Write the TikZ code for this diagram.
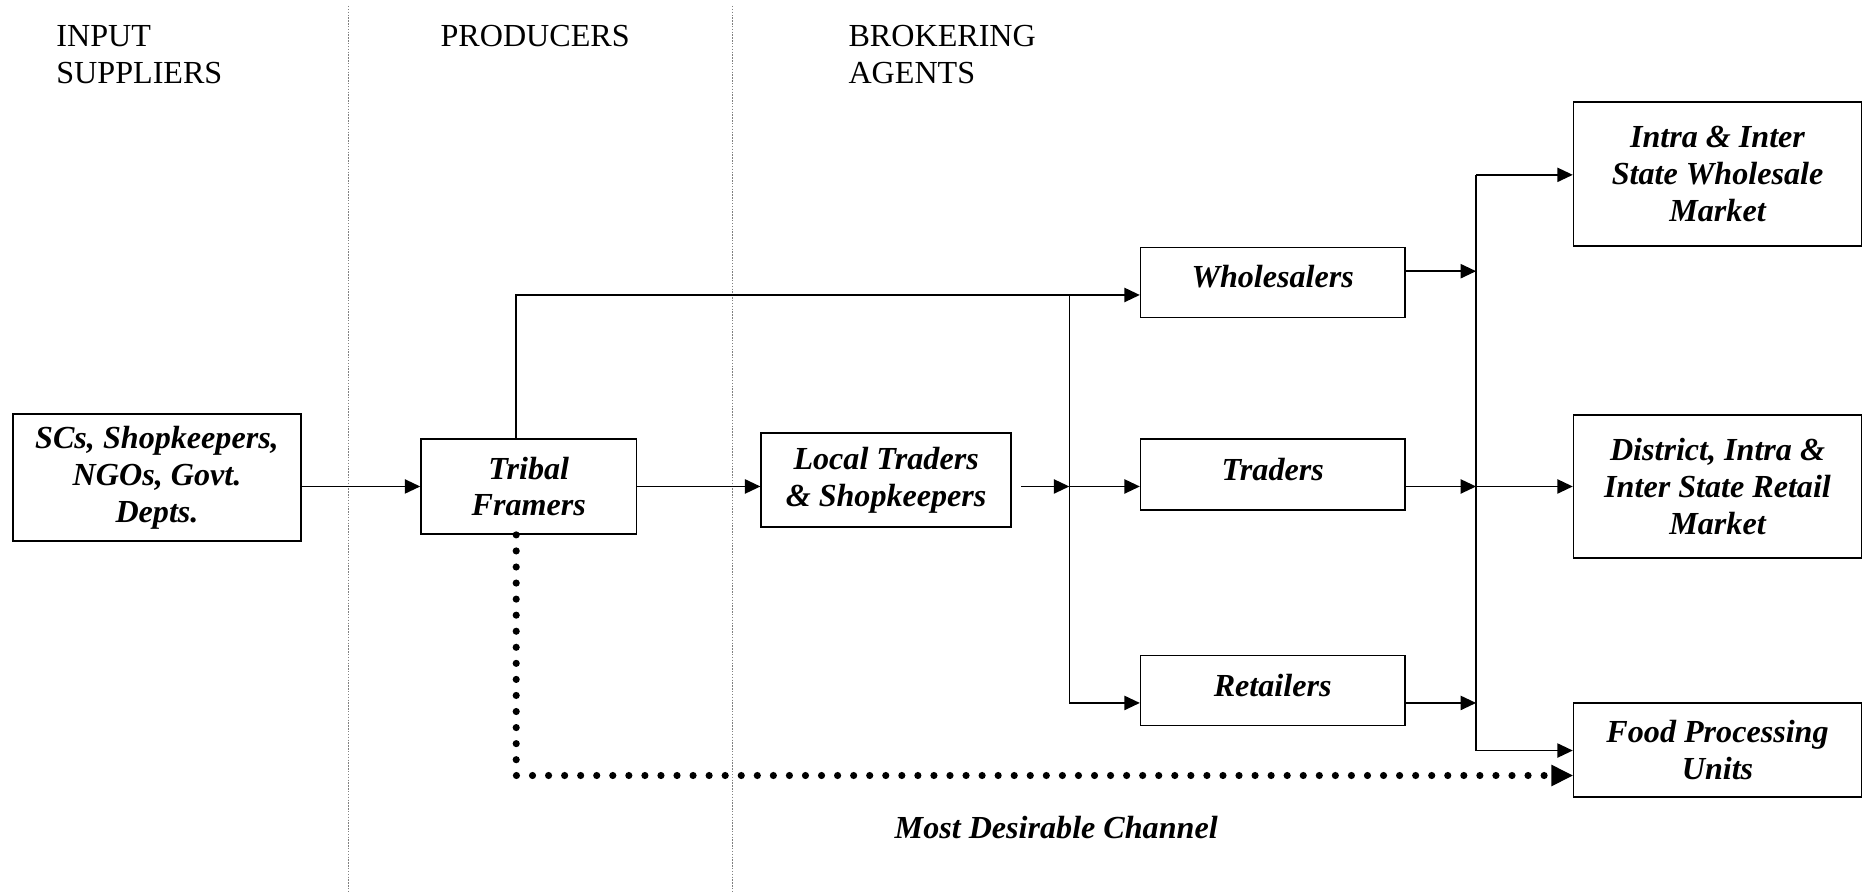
\documentclass[tikz,border=0pt]{standalone}
\usepackage{fontspec}
\setmainfont{Liberation Serif}
\usetikzlibrary{arrows.meta}

% raise or lower a box's contents without changing its size
\newcommand{\nudge}[2]{\raisebox{#1}[\height][\depth]{#2}}

\begin{document}
\begin{tikzpicture}[x=0.5pt,y=-0.5pt,
  box/.style={draw, line width=0.7pt, inner sep=0pt, align=center,
    font=\bfseries\itshape\fontsize{13.5}{15.5}\selectfont},
  head/.style={inner sep=0pt, anchor=base west, font=\fontsize{13.5}{15.5}\selectfont},
  flow/.style={line width=0.65pt, -{Triangle[length=6.5pt,width=6pt]}},
  link/.style={line width=0.65pt},
  lane/.style={gray, line width=0.4pt, dash pattern=on 0.6pt off 0.6pt},
  best/.style={line width=3pt, line cap=round, dash pattern=on 0pt off 6.75pt},
  besttip/.style={-{Triangle[length=9pt,width=9pt]}, line width=0.6pt}]

\useasboundingbox[fill=white] (0,0) rectangle (1568,750);

% column separators
\draw[lane] (293,5) -- (293,750);
\draw[lane] (616,5) -- (616,750);

% column headings
\node[head] (h1a) at (47,39) {INPUT};
\node[head] (h1b) at (47,70) {SUPPLIERS};
\node[head] (h2)  at (370,39) {PRODUCERS};
\node[head] (h3a) at (713,39) {BROKERING};
\node[head] (h3b) at (713,70) {AGENTS};

% boxes
\node[box, minimum width=121pt, minimum height=53.5pt] (scs) at (132,401.5)
  {SCs, Shopkeepers,\\NGOs, Govt.\\Depts.};
\node[box, minimum width=90.5pt, minimum height=40pt] (tribal) at (444.5,409)
  {Tribal\\Framers};
\node[box, minimum width=105pt, minimum height=39.5pt] (local) at (745,403.5)
  {Local Traders\\\& Shopkeepers};
\node[box, minimum width=111pt, minimum height=29.5pt] (whole) at (1070,237.5)
  {\nudge{2.5pt}{Wholesalers}};
\node[box, minimum width=111pt, minimum height=30pt] (traders) at (1070,399)
  {\nudge{2pt}{Traders}};
\node[box, minimum width=111pt, minimum height=29.5pt] (retail) at (1070,580.5)
  {\nudge{2pt}{Retailers}};
\node[box, minimum width=121pt, minimum height=60.5pt] (intra) at (1444,146.5)
  {Intra \& Inter\\State Wholesale\\Market};
\node[box, minimum width=121pt, minimum height=60pt] (district) at (1444,409)
  {District, Intra \&\\Inter State Retail\\Market};
\node[box, minimum width=121pt, minimum height=39.5pt] (food) at (1444,630.5)
  {Food Processing\\Units};

% junction points
\coordinate (up) at (434,248);
\coordinate (hubtop) at (899,248);
\coordinate (hubmid) at (899,409);
\coordinate (hubbot) at (899,591);
\coordinate (bustop) at (1241,147);
\coordinate (busw) at (1241,228);
\coordinate (busmid) at (1241,409);
\coordinate (busr) at (1241,591);
\coordinate (busbot) at (1241,631);
\coordinate (dotcorner) at (434,652);
\coordinate (dotend) at (1306,652);

% main flows
\draw[flow] (scs.east |- tribal.west) -- (tribal.west);
\draw[flow] (tribal.east) -- (tribal.east -| local.west);
\draw[flow] (tribal.north -| up) -- (up) -- (up -| whole.west);
\draw[flow] ([xshift=4pt]local.east |- hubmid) -- (hubmid);
\draw[link] (hubtop) -- (hubbot);
\draw[flow] (hubmid) -- (hubmid -| traders.west);
\draw[flow] (hubbot) -- (hubbot -| retail.west);

\draw[flow] (whole.east |- busw) -- (busw);
\draw[flow] (traders.east |- busmid) -- (busmid);
\draw[flow] (retail.east |- busr) -- (busr);
\draw[link] (bustop) -- (busbot);
\draw[flow] (bustop) -- (bustop -| intra.west);
\draw[flow] (busmid) -- (busmid -| district.west);
\draw[flow] (busbot) -- (busbot -| food.west);

% preferred channel
\draw[best] (tribal.south -| dotcorner) -- (dotcorner) -- (dotend);
\draw[besttip] (dotend) -- (dotend -| food.west);
\node[font=\bfseries\itshape\fontsize{13.5}{15.5}\selectfont, inner sep=0pt] (label) at (888,696)
  {Most Desirable Channel};
\end{tikzpicture}
\end{document}
